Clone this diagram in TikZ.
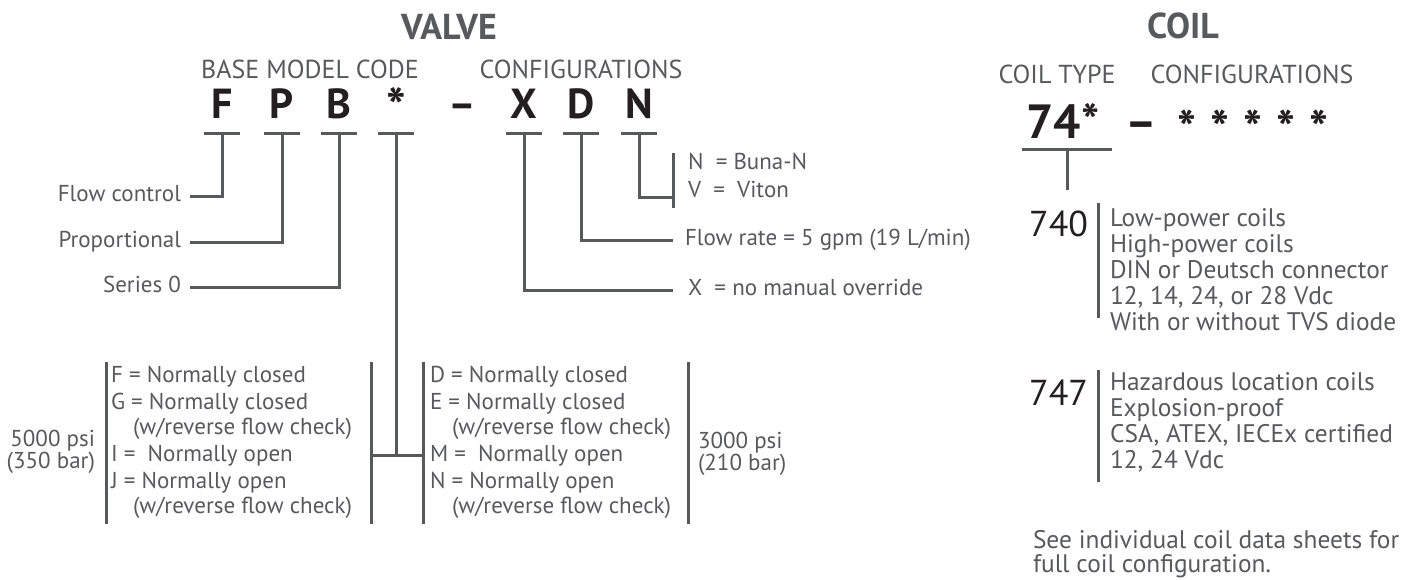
\documentclass[tikz,border=0pt]{standalone}
\usepackage{fontspec}
\setmainfont{PT Sans}
\usepackage{xcolor}
\definecolor{textgray}{RGB}{88, 89, 91}
\definecolor{codeblack}{RGB}{35, 31, 32}
\usetikzlibrary{positioning, calc}

\begin{document}
\begin{tikzpicture}[x=0.5pt, y=-0.5pt, inner sep=0pt, outer sep=0pt]
  \tikzstyle{title} = [font=\bfseries\fontsize{18}{20}\selectfont, text=textgray, anchor=base]
  \tikzstyle{head} = [font=\fontsize{13}{15}\selectfont, text=textgray, anchor=base]
  \tikzstyle{code} = [font=\bfseries\fontsize{21}{24}\selectfont, text=codeblack, anchor=base]
  \tikzstyle{lbl} = [font=\fontsize{11.5}{13.7}\selectfont, text=textgray, align=left]
  \tikzstyle{coil} = [font=\fontsize{12.7}{13}\selectfont, text=textgray, align=left]
  \tikzstyle{num} = [font=\fontsize{18}{20}\selectfont, text=codeblack, anchor=base east]
  \tikzstyle{lead} = [draw=textgray, line width=1.5pt]

  \useasboundingbox (0,0) rectangle (1403,579);
  \coordinate (bartop) at (0,133);
  \coordinate (joint) at (0,455);

  % valve model code
  \node [title] (valve) at (449,39) {VALVE};
  \node [head] (base) at (310,78) {BASE MODEL CODE};
  \node [head] (config) at (581,78) {CONFIGURATIONS};
  \node [code] (cF) at (222,118) {F};
  \node [code] (cP) at (282,118) {P};
  \node [code] (cB) at (339,118) {B};
  \node [code, font=\bfseries\fontsize{26}{28}\selectfont] (cS) at (396,125) {*};
  \node [code] (cDash) at (462,118) {--};
  \node [code] (cX) at (524,118) {X};
  \node [code] (cD) at (581,118) {D};
  \node [code] (cN) at (639,118) {N};
  \foreach \c in {cF,cP,cB,cS,cX,cD,cN}
    \draw [lead] ($(\c |- bartop)+(-18,0)$) -- ++(36,0);

  % left labels
  \node [lbl, anchor=mid east] (flow) at (181,196) {Flow control};
  \node [lbl, anchor=mid east] (prop) at (181,242) {Proportional};
  \node [lbl, anchor=mid east] (series) at (181,287) {Series 0};
  \draw [lead] (cF |- bartop) |- ($(flow.mid east)+(9,0)$);
  \draw [lead] (cP |- bartop) |- ($(prop.mid east)+(9,0)$);
  \draw [lead] (cB |- bartop) |- ($(series.mid east)+(9,0)$);

  % right labels
  \node [lbl, anchor=north west] (seal) at (688,153) {N\ \ = Buna-N\\[0.3pt] V\ \ =\ \ Viton};
  \node [lbl, anchor=mid west] (rate) at (685,240) {Flow rate = 5 gpm (19 L/min)};
  \node [lbl, anchor=mid west] (manual) at (688,290) {X\ \ = no manual override};
  \coordinate (sealtop) at (673,153);
  \coordinate (sealbot) at (673,208);
  \draw [lead] (sealtop) -- (sealbot);
  \draw [lead] (cN |- bartop) |- (cN |- 0,197) -- (sealbot |- 0,197);
  \draw [lead] (cD |- bartop) |- ($(rate.mid west)+(-12,0)$);
  \draw [lead] (cX |- bartop) |- ($(manual.mid west)+(-15,0)$);

  % spool options
  \node [lbl, anchor=north west] (optL) at (111,366) {F = Normally closed\\ G = Normally closed\\[-1.5pt] \hspace*{11pt}(w/reverse flow check)\\ I =\ \ Normally open\\ J = Normally open\\[-1.5pt] \hspace*{11pt}(w/reverse flow check)};
  \node [lbl, anchor=north west] (optR) at (430,366) {D = Normally closed\\ E = Normally closed\\[-1.5pt] \hspace*{11pt}(w/reverse flow check)\\ M =\ \ Normally open\\ N = Normally open\\[-1.5pt] \hspace*{11pt}(w/reverse flow check)};
  \node [lbl, font=\fontsize{11.5}{11}\selectfont, align=right, anchor=east] (psiL) at (95,452) {5000 psi\\ (350 bar)};
  \node [lbl, font=\fontsize{11.5}{11}\selectfont, align=left, anchor=west] (psiR) at (698,454) {3000 psi\\ (210 bar)};
  \draw [lead] (106,362) -- (106,524);
  \draw [lead] (371,362) -- (371,524);
  \draw [lead] (423,362) -- (423,524);
  \draw [lead] (688,362) -- (688,524);
  \draw [lead] (371,455) -- (423,455);
  \draw [lead] (cS |- bartop) -- (cS |- joint);

  % coil model code
  \node [title] (coiltitle) at (1183,38) {COIL};
  \node [head] (ctype) at (1057,83) {COIL TYPE};
  \node [head] (cconfig) at (1252,83) {CONFIGURATIONS};
  \node [code, font=\bfseries\fontsize{24}{26}\selectfont] (c74) at (1063,138) {74*};
  \node [code, font=\bfseries\fontsize{24}{26}\selectfont] (cDash2) at (1141,138) {--};
  \node [code, font=\bfseries\fontsize{25}{27}\selectfont] (cStars) at (1253,146) {*\hspace{7pt}*\hspace{7pt}*\hspace{7pt}*\hspace{7pt}*};
  \coordinate (typebar) at (1067,149);
  \draw [lead] ($(typebar)+(-45,0)$) -- ++(90,0);
  \draw [lead] (typebar) -- ++(0,41);

  \node [num] (n740) at (1088,236) {740};
  \node [coil, anchor=north west] (l740) at (1110,209) {Low-power coils\\ High-power coils\\ DIN or Deutsch connector\\ 12, 14, 24, or 28 Vdc\\ With or without TVS diode};
  \draw [lead] (1098,203) -- (1098,318);
  \node [num] (n747) at (1088,405) {747};
  \node [coil, anchor=north west] (l747) at (1110,373) {Hazardous location coils\\ Explosion-proof\\ CSA, ATEX, IECEx certified\\ 12, 24 Vdc};
  \draw [lead] (1098,370) -- (1098,482);

  \node [coil, font=\fontsize{12.7}{12.3}\selectfont, anchor=north west] (note) at (1033,530) {See individual coil data sheets for\\ full coil configuration.};
\end{tikzpicture}
\end{document}
